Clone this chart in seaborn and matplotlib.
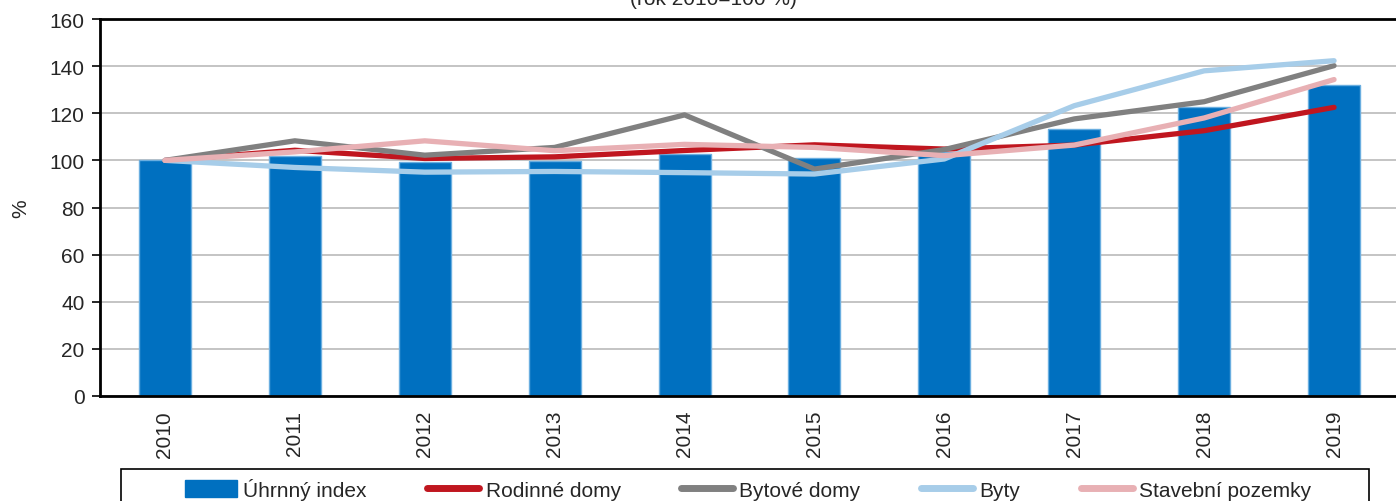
import numpy as np
import pandas as pd
import matplotlib
matplotlib.use("Agg")
import matplotlib.pyplot as plt
import seaborn as sns
from matplotlib.patches import Patch, Rectangle
from matplotlib.lines import Line2D

years = ["2010", "2011", "2012", "2013", "2014", "2015", "2016", "2017", "2018", "2019"]
uhrnny = [100, 101.7, 99.4, 99.9, 102.7, 100.9, 103.6, 113.3, 122.8, 132.1]
rodinne = [100, 104.3, 100.8, 101.5, 104.2, 106.6, 104.8, 106.5, 112.6, 122.5]
bytove = [100, 108.3, 102.2, 105.5, 119.3, 96.3, 104.6, 117.6, 124.9, 140.2]
byty = [100, 97.0, 95.0, 95.3, 94.8, 94.2, 100.6, 123.2, 138.0, 142.3]
pozemky = [100, 103.6, 108.3, 104.1, 106.8, 105.5, 102.0, 106.5, 118.0, 134.3]

series_names = ["Rodinné domy", "Bytové domy", "Byty", "Stavební pozemky"]
series_values = [rodinne, bytove, byty, pozemky]
bar_name = "Úhrnný index"
title = "(rok 2010=100 %)"

bar_color = "#0070C0"
line_colors = ["#C0161F", "#808080", "#A7CDE9", "#E8B0B4"]

sns.set_theme(style="white")
plt.rcParams["font.family"] = ["Liberation Sans", "DejaVu Sans"]
FS = 15

fig = plt.figure(figsize=(13.96, 5.02), dpi=100)
ax = fig.add_axes([100 / 1396, 1 - 397 / 502, 1299 / 1396, 377 / 502])

df_bar = pd.DataFrame({"year": years, "value": uhrnny})
sns.barplot(data=df_bar, x="year", y="value", order=years, color=bar_color,
            width=0.4, edgecolor="#6AAEE0", linewidth=1, saturation=1, ax=ax, zorder=2)

pos = np.arange(len(years))
rows = []
for name, vals in zip(series_names, series_values):
    for p, v in zip(pos, vals):
        rows.append({"pos": p, "value": v, "series": name})
df_lines = pd.DataFrame(rows)
sns.lineplot(data=df_lines, x="pos", y="value", hue="series", hue_order=series_names,
             palette=line_colors, linewidth=3.8, ax=ax, legend=False, zorder=3,
             solid_capstyle="round", solid_joinstyle="round")

ax.set_xlim(-0.5, len(years) - 0.5)
ax.set_ylim(0, 160)
ax.set_yticks(np.arange(0, 161, 20))
ax.set_xticks(pos)
ax.set_xticklabels(years, rotation=90, fontsize=FS)
ax.set_xticks(np.arange(-0.5, len(years), 1.0), minor=True)
ax.tick_params(axis="x", which="major", length=0, pad=10)
ax.tick_params(axis="x", which="minor", length=7, width=1.2, color="black", direction="out")
ax.tick_params(axis="y", which="major", length=6, width=1.2, color="black", direction="out",
               labelsize=FS, pad=5, left=True)
ax.set_xlabel("")
ax.set_ylabel("%", fontsize=FS, labelpad=14)
ax.grid(axis="y", color="#C4C4C4", linewidth=1.4, zorder=0)
ax.set_axisbelow(True)
for side in ["left", "top", "bottom", "right"]:
    ax.spines[side].set_color("black")
    ax.spines[side].set_linewidth(2)
    ax.spines[side].set_visible(True)

fig.text(713 / 1396, 1 - 5 / 502, title, ha="center", va="baseline", fontsize=FS)

# legend frame (wider than its content, as in the reference)
fig.patches.append(Rectangle((121 / 1396, 1 - 512 / 502), (1369 - 121) / 1396, 42 / 502,
                             transform=fig.transFigure, facecolor="white",
                             edgecolor="black", linewidth=1.2, zorder=1))

handles = [Patch(facecolor=bar_color, edgecolor=bar_color)]
handles += [Line2D([0], [0], color=c, linewidth=5, solid_capstyle="round") for c in line_colors]
labels = [bar_name] + series_names
leg = fig.legend(handles, labels, loc="center", bbox_to_anchor=(748 / 1396, 1 - 490 / 502),
                 ncol=5, fontsize=FS, frameon=False,
                 handlelength=2.5, handleheight=0.85, handletextpad=0.3, columnspacing=2.9,
                 borderpad=0.0, borderaxespad=0)
leg.set_zorder(2)

fig.savefig("out.png", dpi=100)
